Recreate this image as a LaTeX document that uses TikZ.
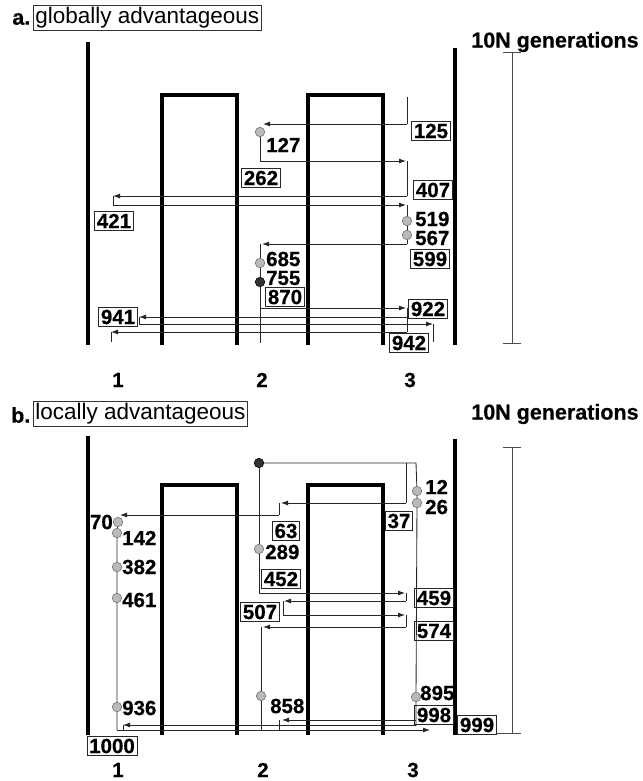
\documentclass[tikz,border=0pt]{standalone}
\usepackage{fontspec}
\setmainfont{Liberation Sans}
\newfontfamily\numf[FakeBold=0.5]{Liberation Sans Bold}
\usetikzlibrary{arrows.meta}
\begin{document}
\begin{tikzpicture}[x=1pt,y=-1pt,
  bar/.style={line width=3.3pt,line join=miter},
  lin/.style={line width=0.85pt,draw=black!85},
  mig/.style={lin,-{Latex[length=7pt,width=5pt]}},
  dotn/.style={circle,inner sep=0pt,minimum size=9.5pt,draw=black!55,line width=0.6pt,fill=gray!55},
  ddotn/.style={dotn,fill=black!80,draw=black},
  num/.style={font=\numf\fontsize{20.5}{20}\selectfont,inner sep=0pt},
  numbox/.style={num,draw=black!85,line width=0.7pt,inner sep=2.3pt},
  ttl/.style={font=\fontsize{22.5}{22}\selectfont,draw=black!80,line width=0.6pt,inner sep=2pt},
  hdr/.style={font=\numf\fontsize{21.5}{22}\selectfont,inner sep=0.5pt},
  scl/.style={line width=0.7pt,draw=black!70}]
\useasboundingbox (0,0) rectangle (642,781);

% ================= panel a =================
\node[hdr,anchor=east] (ta) at (31,19) {a.};
\node[ttl,anchor=west] (tta) at (33,18) {globally advantageous};
\node[hdr] (ga) at (555,42) {10N generations};
\draw[bar] (88,42) -- (88,345);
\draw[bar] (162,345) -- (162,95) -- (237,95) -- (237,345);
\draw[bar] (308,345) -- (308,95) -- (383,95) -- (383,345);
\draw[bar] (455,48) -- (455,345);
\draw[scl] (512,52) -- (512,343);
\draw[scl] (503,52) -- (521,52);
\draw[scl] (503,343) -- (521,343);

\node[dotn] (d127) at (260,132) {};
\node[dotn] (d519) at (407,221) {};
\node[dotn] (d567) at (407,235) {};
\node[dotn] (d685) at (260,263) {};
\node[ddotn] (d755) at (260,282) {};

\draw[lin] (407,97) -- (407,124);
\draw[mig] (407,124) -- (263,124);
\draw[mig] (d127) |- (406,161);
\draw[lin] (407,161) -- (407,196);
\draw[mig] (407,196) -- (113,196);
\draw[lin] (113,196) -- (113,205);
\draw[mig] (113,205) -- (406,205);
\draw[lin] (407,205) -- (d519) -- (d567) -- (407,244);
\draw[mig] (407,244) -- (262,244);
\draw[lin] (260,244) -- (d685) -- (d755) -- (260,343);
\draw[mig] (260,308) -- (406,308);
\draw[lin] (407,308) -- (407,332);
\draw[mig] (407,317) -- (139,317);
\draw[lin] (139,317) -- (139,324);
\draw[mig] (139,324) -- (433,324);
\draw[lin] (433,324) -- (433,342);
\draw[mig] (407,332) -- (111,332);
\draw[lin] (111,332) -- (111,342);

\node[numbox] (b125) at (431,131) {125};
\node[num,anchor=west] (l127) at (266,145) {127};
\node[numbox] (b262) at (261,178) {262};
\node[numbox] (b407) at (433,190) {407};
\node[numbox] (b421) at (114,221) {421};
\node[num,anchor=west] (l519) at (415,219) {519};
\node[num,anchor=west] (l567) at (415,238) {567};
\node[numbox] (b599) at (430,259) {599};
\node[num,anchor=west] (l685) at (266,259) {685};
\node[num,anchor=west] (l755) at (266,278) {755};
\node[numbox] (b870) at (285,297) {870};
\node[numbox] (b922) at (428,309) {922};
\node[numbox] (b941) at (118,317) {941};
\node[numbox] (b942) at (409,343) {942};

\node[num] (x1a) at (118,380) {1};
\node[num] (x2a) at (262,380) {2};
\node[num] (x3a) at (410,380) {3};

% ================= panel b =================
\node[hdr,anchor=east] (tb) at (31,415) {b.};
\node[ttl,anchor=west] (ttb) at (33,414) {locally advantageous};
\node[hdr] (gb) at (555,414) {10N generations};
\draw[bar] (88,436) -- (88,735);
\draw[bar] (162,735) -- (162,485) -- (237,485) -- (237,735);
\draw[bar] (308,735) -- (308,485) -- (383,485) -- (383,735);
\draw[bar] (455,439) -- (455,735);
\draw[scl] (512,447) -- (512,733);
\draw[scl] (503,447) -- (521,447);
\draw[scl] (497,733) -- (521,733);

\node[ddotn] (e0) at (259,463) {};
\node[dotn] (e12) at (417,491) {};
\node[dotn] (e26) at (417,503) {};
\node[dotn] (e70) at (118,522) {};
\node[dotn] (e142) at (117,533) {};
\node[dotn] (e382) at (117,567) {};
\node[dotn] (e461) at (117,598) {};
\node[dotn] (e936) at (117,707) {};
\node[dotn] (e289) at (259,549) {};
\node[dotn] (e858) at (261,696) {};
\node[dotn] (e895) at (416,697) {};

\draw[lin] (e0) -- (416,463) -- (e12) -- (e26) -- (e895) -- (416,726);
\draw[lin] (406,463) -- (406,503);
\draw[mig] (406,503) -- (281,503);
\draw[lin] (279,503) -- (279,515);
\draw[mig] (279,515) -- (120,515);
\draw[lin] (e70) -- (e142) -- (e382) -- (e461) -- (e936) -- (117,730);
\draw[mig] (117,730) -- (430,730);
\draw[lin] (e0) -- (e289) -- (259,593);
\draw[mig] (259,593) -- (405,593);
\draw[lin] (406,593) -- (406,601);
\draw[mig] (406,601) -- (284,601);
\draw[lin] (283,601) -- (283,615);
\draw[mig] (283,615) -- (405,615);
\draw[lin] (406,615) -- (406,627);
\draw[mig] (406,627) -- (263,627);
\draw[lin] (261,627) -- (e858) -- (261,730);
\draw[mig] (416,720) -- (282,720);
\draw[lin] (279,720) -- (279,730);
\draw[mig] (416,725) -- (123,725);
\draw[lin] (123,725) -- (123,730);

\node[num,anchor=west] (l12) at (425,487) {12};
\node[num,anchor=west] (l26) at (425,507) {26};
\node[numbox] (b37) at (399,521) {37};
\node[num,anchor=east] (l70) at (113,522) {70};
\node[num,anchor=west] (l142) at (122,538) {142};
\node[num,anchor=west] (l382) at (122,567) {382};
\node[num,anchor=west] (l461) at (122,600) {461};
\node[num,anchor=west] (l936) at (122,708) {936};
\node[numbox] (b63) at (286,531) {63};
\node[num,anchor=west] (l289) at (265,552) {289};
\node[numbox] (b452) at (281,579) {452};
\node[numbox] (b459) at (434,598) {459};
\node[numbox] (b507) at (260,612) {507};
\node[numbox] (b574) at (434,631) {574};
\node[num,anchor=west] (l858) at (270,706) {858};
\node[num,anchor=west] (l895) at (420,693) {895};
\node[numbox] (b998) at (434,715) {998};
\node[numbox] (b999) at (477,725) {999};
\node[numbox] (b1000) at (112,746) {1000};

\node[num] (x1b) at (118,770) {1};
\node[num] (x2b) at (263,770) {2};
\node[num] (x3b) at (413,770) {3};
\end{tikzpicture}
\end{document}
